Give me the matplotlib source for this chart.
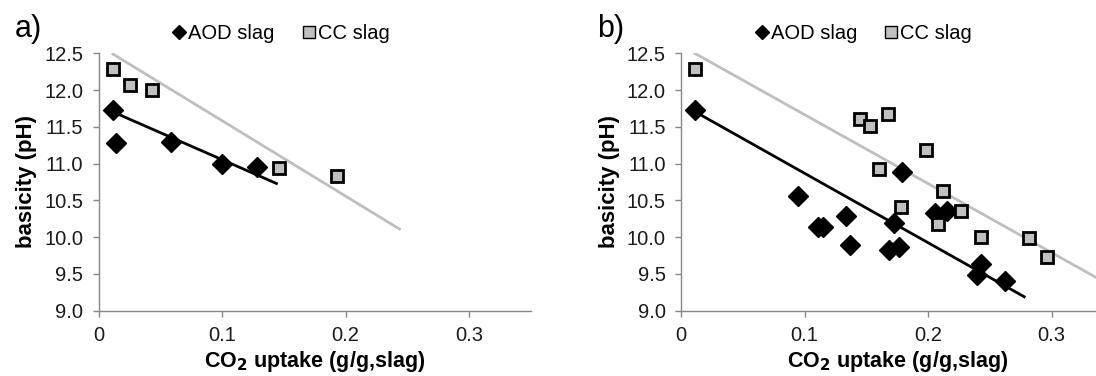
import matplotlib
matplotlib.use("Agg")
import matplotlib.pyplot as plt
from matplotlib.lines import Line2D

plt.rcParams['font.family'] = ['Liberation Sans', 'DejaVu Sans']

# --- data ---
# panel a)
a_aod_x = [0.012, 0.0145, 0.059, 0.100, 0.128]
a_aod_y = [11.73, 11.28, 11.30, 11.00, 10.95]
a_cc_x = [0.012, 0.0256, 0.043, 0.146, 0.193]
a_cc_y = [12.29, 12.07, 12.00, 10.94, 10.83]
a_aod_trend_x = [0.0094, 0.144]
a_aod_trend_y = [11.72, 10.73]
a_cc_trend_x = [0.0117, 0.2436]
a_cc_trend_y = [12.49, 10.11]

# panel b)
b_aod_x = [0.0114, 0.095, 0.111, 0.1146, 0.1337, 0.137, 0.1726, 0.1786,
           0.1686, 0.1763, 0.2057, 0.2149, 0.2397, 0.2426, 0.262]
b_aod_y = [11.73, 10.56, 10.14, 10.14, 10.29, 9.90, 10.19, 10.88,
           9.82, 9.87, 10.33, 10.36, 9.48, 9.64, 9.40]
b_cc_x = [0.0117, 0.1451, 0.1529, 0.1677, 0.198, 0.160, 0.1783, 0.212,
          0.2077, 0.2269, 0.2426, 0.282, 0.2963]
b_cc_y = [12.29, 11.61, 11.51, 11.67, 11.19, 10.93, 10.41, 10.63,
          10.18, 10.35, 10.00, 9.99, 9.73]
b_aod_trend_x = [0.0109, 0.2777]
b_aod_trend_y = [11.71, 9.19]
b_cc_trend_x = [0.0111, 0.35]
b_cc_trend_y = [12.50, 9.32]

x_ticks = [0, 0.1, 0.2, 0.3]
x_tick_labels = ['0', '0.1', '0.2', '0.3']
y_ticks = [9.0, 9.5, 10.0, 10.5, 11.0, 11.5, 12.0, 12.5]

axis_grey = '#868686'
cc_fill = '#c0c0c0'
trend_grey = '#bfbfbf'

fig = plt.figure(figsize=(10.96, 3.76), dpi=100)


def panel(rect, label, label_x, aod_x, aod_y, cc_x, cc_y,
          aod_tx, aod_ty, cc_tx, cc_ty):
    ax = fig.add_axes(rect)
    ax.plot(cc_tx, cc_ty, color=trend_grey, lw=2.0, zorder=2)
    ax.plot(aod_tx, aod_ty, color='black', lw=2.0, zorder=2)
    ax.plot(aod_x, aod_y, ls='none', marker='D', ms=10.5, color='black',
            mec='black', zorder=3)
    ax.plot(cc_x, cc_y, ls='none', marker='s', ms=9, mfc=cc_fill,
            mec='black', mew=2.0, zorder=3)

    ax.set_xlim(0, 0.35)
    ax.set_ylim(9.0, 12.5)
    ax.set_xticks(x_ticks)
    ax.set_xticklabels(x_tick_labels)
    ax.set_yticks(y_ticks)
    ax.set_yticklabels(['%.1f' % v for v in y_ticks])
    for s in ['top', 'right']:
        ax.spines[s].set_visible(False)
    for s in ['left', 'bottom']:
        ax.spines[s].set_color(axis_grey)
        ax.spines[s].set_linewidth(1.0)
    ax.tick_params(axis='both', direction='out', length=4, width=1.0,
                   color=axis_grey, labelsize=14.5, labelcolor='#1a1a1a')
    ax.tick_params(axis='y', pad=7)
    ax.tick_params(axis='x', pad=7)
    ax.set_ylabel('basicity (pH)', fontsize=16, fontweight='bold',
                  labelpad=5)
    ax.set_xlabel(r'CO$_\mathbf{2}$ uptake (g/g,slag)', fontsize=15.5,
                  fontweight='bold', labelpad=3)

    handles = [
        Line2D([], [], ls='none', marker='D', ms=7.5, color='black'),
        Line2D([], [], ls='none', marker='s', ms=8.5, mfc=cc_fill,
               mec='black', mew=1.0),
    ]
    ax.legend(handles, ['AOD slag', 'CC slag'], ncol=2, loc='center',
              bbox_to_anchor=(0.423, 1.078), frameon=False, fontsize=14.5,
              handlelength=0.6, handletextpad=0.15, columnspacing=1.4,
              borderaxespad=0)
    fig.text(label_x, 1 - 37 / 376, label, fontsize=22, va='baseline')
    return ax


bottom = 1 - 310.7 / 376
height = (310.7 - 53.3) / 376
width = 432.5 / 1096

panel([98.5 / 1096, bottom, width, height], 'a)', 15 / 1096,
      a_aod_x, a_aod_y, a_cc_x, a_cc_y,
      a_aod_trend_x, a_aod_trend_y, a_cc_trend_x, a_cc_trend_y)
panel([681 / 1096, bottom, width, height], 'b)', 597 / 1096,
      b_aod_x, b_aod_y, b_cc_x, b_cc_y,
      b_aod_trend_x, b_aod_trend_y, b_cc_trend_x, b_cc_trend_y)

fig.savefig('out.png', dpi=100)
